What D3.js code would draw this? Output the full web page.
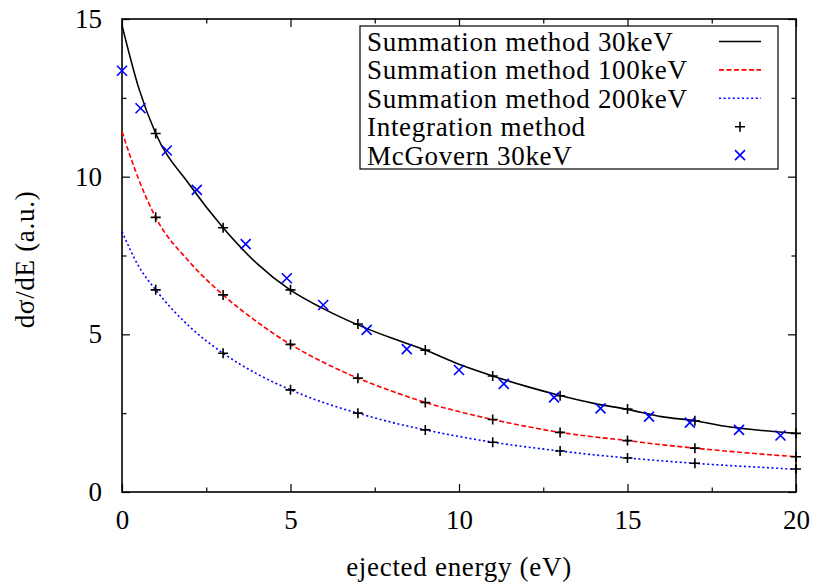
<!DOCTYPE html>
<html>
<head>
<meta charset="utf-8">
<script src="https://cdn.jsdelivr.net/npm/d3@7"></script>
<style>
  html, body { margin: 0; padding: 0; background: #fff; }
  svg { display: block; }
  text { font-family: "Liberation Serif", "Times New Roman", serif; fill: #000; }
  .title, .legend-label { letter-spacing: 0.7px; }
</style>
</head>
<body>
<svg id="chart" width="814" height="582"></svg>
<script>
// Differential cross section dσ/dE versus ejected-electron energy

// Summation-method curves (sampled energies, eV)
const curveEnergies = [0, 0.5, 1, 2, 3, 4, 5, 6, 7, 8, 9, 10, 11, 12, 13, 14, 15, 16, 17, 18, 19, 20];
const sum30keV  = [14.8, 12.8, 11.37, 9.75, 8.38, 7.25, 6.4, 5.8, 5.3, 4.88, 4.5, 4.05, 3.68, 3.35, 3.06, 2.81, 2.62, 2.39, 2.26, 2.07, 1.95, 1.86];
const sum100keV = [11.43, 9.9, 8.71, 7.3, 6.25, 5.4, 4.68, 4.1, 3.61, 3.2, 2.84, 2.55, 2.3, 2.08, 1.89, 1.75, 1.63, 1.5, 1.39, 1.29, 1.2, 1.12];
const sum200keV = [8.26, 7.15, 6.41, 5.25, 4.4, 3.75, 3.24, 2.83, 2.5, 2.21, 1.97, 1.76, 1.58, 1.43, 1.3, 1.18, 1.08, 0.99, 0.91, 0.84, 0.78, 0.72];

// Integration-method points
const intEnergies = [1, 3, 5, 7, 9, 11, 13, 15, 17, 20];
const int30keV  = [11.37, 8.38, 6.41, 5.33, 4.50, 3.68, 3.05, 2.63, 2.26, 1.86];
const int100keV = [8.71, 6.25, 4.68, 3.61, 2.84, 2.30, 1.89, 1.63, 1.39, 1.12];
const int200keV = [6.41, 4.40, 3.24, 2.50, 1.97, 1.58, 1.30, 1.08, 0.91, 0.73];

// McGovern 30 keV
const mcgEnergies = [0, 0.55, 1.33, 2.22, 3.67, 4.89, 5.97, 7.26, 8.45, 10.0, 11.33, 12.82, 14.2, 15.64, 16.85, 18.31, 19.54];
const mcg30keV    = [13.36, 12.17, 10.83, 9.58, 7.86, 6.78, 5.93, 5.14, 4.53, 3.87, 3.43, 3.00, 2.65, 2.39, 2.20, 1.97, 1.79];

// Axes
const xMajorTicks = [0, 5, 10, 15, 20];
const xMinorTicks = [2.5, 7.5, 12.5, 17.5];
const yMajorTicks = [0, 5, 10, 15];
const yMinorTicks = [2.5, 7.5, 12.5];

const legendLabels = [
  "Summation method 30keV",
  "Summation method 100keV",
  "Summation method 200keV",
  "Integration method",
  "McGovern 30keV"
];

const svg = d3.select("#chart");
const plotLeft = 122, plotRight = 796, plotTop = 19, plotBottom = 492;
const fontSize = 27;

const x = d3.scaleLinear().domain([0, 20]).range([plotLeft, plotRight]);
const y = d3.scaleLinear().domain([0, 15]).range([plotBottom, plotTop]);

// Tick marks point inward on all four sides
function drawAxis(axisFn, scale, transform, ticks, size, labels, padding) {
  const g = svg.append("g")
    .attr("transform", transform)
    .call(axisFn(scale).tickValues(ticks).tickSize(-size).tickPadding(padding)
      .tickFormat(labels ? d3.format("d") : () => ""));
  g.select(".domain").remove();
  g.selectAll("line").attr("stroke", "#000").attr("stroke-width", 1.2);
  g.selectAll("text").style("font-size", fontSize + "px").attr("font-family", null);
  return g;
}

drawAxis(d3.axisBottom, x, `translate(0,${plotBottom})`, xMajorTicks, 8, true, 18);
drawAxis(d3.axisBottom, x, `translate(0,${plotBottom})`, xMinorTicks, 4.5, false, 0);
drawAxis(d3.axisTop, x, `translate(0,${plotTop})`, xMajorTicks, 8, false, 0);
drawAxis(d3.axisTop, x, `translate(0,${plotTop})`, xMinorTicks, 4.5, false, 0);
drawAxis(d3.axisLeft, y, `translate(${plotLeft},0)`, yMajorTicks, 8, true, 20);
drawAxis(d3.axisLeft, y, `translate(${plotLeft},0)`, yMinorTicks, 4.5, false, 0);
drawAxis(d3.axisRight, y, `translate(${plotRight},0)`, yMajorTicks, 8, false, 0);
drawAxis(d3.axisRight, y, `translate(${plotRight},0)`, yMinorTicks, 4.5, false, 0);

// Plot frame
svg.append("rect")
  .attr("x", plotLeft).attr("y", plotTop)
  .attr("width", plotRight - plotLeft).attr("height", plotBottom - plotTop)
  .attr("fill", "none").attr("stroke", "#000").attr("stroke-width", 1.6);

// Axis titles
svg.append("text")
  .attr("class", "title")
  .attr("x", (plotLeft + plotRight) / 2).attr("y", 567)
  .attr("text-anchor", "middle").attr("dy", "0.35em")
  .style("font-size", fontSize + "px")
  .text("ejected energy (eV)");

svg.append("text")
  .attr("class", "title")
  .attr("transform", `translate(25,${(plotTop + plotBottom) / 2 + 4}) rotate(-90)`)
  .attr("text-anchor", "middle").attr("dy", "0.35em")
  .style("font-size", fontSize + "px")
  .text("dσ/dE (a.u.)");

// Curves
const lineGen = d3.line()
  .x(d => x(d[0])).y(d => y(d[1]))
  .curve(d3.curveMonotoneX);

const curveStyles = [
  { values: sum30keV,  color: "#000000", dash: null,  width: 1.6 },
  { values: sum100keV, color: "#ff0000", dash: "5,2.5", width: 1.6 },
  { values: sum200keV, color: "#0000ff", dash: "2,2.6", width: 1.6 }
];

curveStyles.forEach(s => {
  svg.append("path")
    .datum(curveEnergies.map((e, i) => [e, s.values[i]]))
    .attr("d", lineGen)
    .attr("fill", "none")
    .attr("stroke", s.color)
    .attr("stroke-width", s.width)
    .attr("stroke-dasharray", s.dash);
});

// Markers
const plusSize = 5, crossSize = 5;

function plus(g, cx, cy) {
  g.append("path")
    .attr("d", `M${cx - plusSize},${cy}H${cx + plusSize}M${cx},${cy - plusSize}V${cy + plusSize}`)
    .attr("stroke", "#000").attr("stroke-width", 1.6).attr("fill", "none");
}
function cross(g, cx, cy) {
  g.append("path")
    .attr("d", `M${cx - crossSize},${cy - crossSize}L${cx + crossSize},${cy + crossSize}M${cx - crossSize},${cy + crossSize}L${cx + crossSize},${cy - crossSize}`)
    .attr("stroke", "#0000ff").attr("stroke-width", 1.6).attr("fill", "none");
}

const markers = svg.append("g");
[int30keV, int100keV, int200keV].forEach(series => {
  series.forEach((v, i) => plus(markers, x(intEnergies[i]), y(v)));
});
mcg30keV.forEach((v, i) => cross(markers, x(mcgEnergies[i]), y(v)));

// Legend
const legend = svg.append("g");
legend.append("rect")
  .attr("x", 360).attr("y", 26).attr("width", 418).attr("height", 143)
  .attr("fill", "#fff").attr("stroke", "#000").attr("stroke-width", 1.2);

const rowY = i => 41.5 + i * 28.4;
legendLabels.forEach((label, i) => {
  legend.append("text")
    .attr("class", "legend-label")
    .attr("x", 367).attr("y", rowY(i)).attr("dy", "0.35em")
    .style("font-size", fontSize + "px")
    .text(label);
});
curveStyles.forEach((s, i) => {
  legend.append("line")
    .attr("x1", 719).attr("x2", 761)
    .attr("y1", rowY(i)).attr("y2", rowY(i))
    .attr("stroke", s.color).attr("stroke-width", s.width)
    .attr("stroke-dasharray", s.dash);
});
plus(legend, 740, rowY(3));
cross(legend, 740, rowY(4));
</script>
</body>
</html>
